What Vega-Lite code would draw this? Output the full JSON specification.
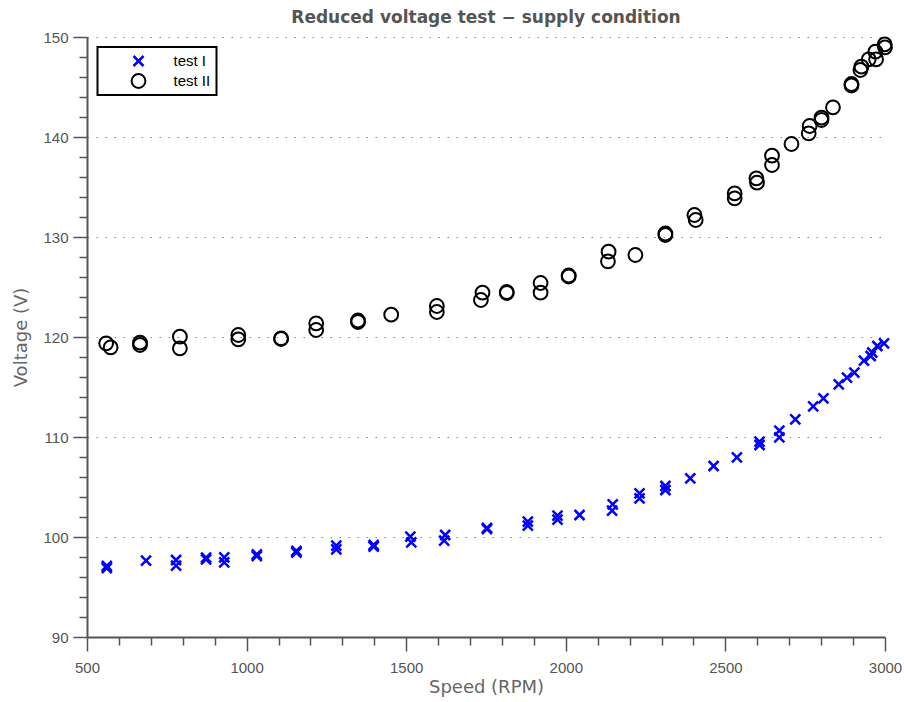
{
  "$schema": "https://vega.github.io/schema/vega-lite/v6.json",
  "autosize": "none",
  "width": 798,
  "height": 600,
  "padding": {"left": 87, "top": 37, "right": 19, "bottom": 65},
  "background": "white",
  "title": {"text": "Reduced voltage test  \u2212 supply condition", "font": "DejaVu Sans", "fontSize": 17, "fontWeight": "bold", "color": "#555555", "offset": 3, "anchor": "middle"},
  "config": {
    "view": {"stroke": null},
    "legend": {"strokeWidth": 2}
  },
  "data": {"values": [
    {"test": "test I", "speed": 562, "voltage": 97.1},
    {"test": "test I", "speed": 562, "voltage": 96.9},
    {"test": "test I", "speed": 685, "voltage": 97.63},
    {"test": "test I", "speed": 779, "voltage": 97.7},
    {"test": "test I", "speed": 779, "voltage": 97.13},
    {"test": "test I", "speed": 873, "voltage": 97.93},
    {"test": "test I", "speed": 873, "voltage": 97.77},
    {"test": "test I", "speed": 930, "voltage": 97.97},
    {"test": "test I", "speed": 930, "voltage": 97.47},
    {"test": "test I", "speed": 1032, "voltage": 98.27},
    {"test": "test I", "speed": 1032, "voltage": 98.1},
    {"test": "test I", "speed": 1156, "voltage": 98.6},
    {"test": "test I", "speed": 1156, "voltage": 98.45},
    {"test": "test I", "speed": 1281, "voltage": 99.13},
    {"test": "test I", "speed": 1281, "voltage": 98.77},
    {"test": "test I", "speed": 1398, "voltage": 99.2},
    {"test": "test I", "speed": 1398, "voltage": 99.03},
    {"test": "test I", "speed": 1513, "voltage": 100.03},
    {"test": "test I", "speed": 1516, "voltage": 99.47},
    {"test": "test I", "speed": 1622, "voltage": 100.2},
    {"test": "test I", "speed": 1619, "voltage": 99.63},
    {"test": "test I", "speed": 1753, "voltage": 100.9},
    {"test": "test I", "speed": 1753, "voltage": 100.8},
    {"test": "test I", "speed": 1881, "voltage": 101.53},
    {"test": "test I", "speed": 1881, "voltage": 101.13},
    {"test": "test I", "speed": 1974, "voltage": 102.13},
    {"test": "test I", "speed": 1974, "voltage": 101.73},
    {"test": "test I", "speed": 2043, "voltage": 102.2},
    {"test": "test I", "speed": 2147, "voltage": 103.27},
    {"test": "test I", "speed": 2145, "voltage": 102.63},
    {"test": "test I", "speed": 2231, "voltage": 104.37},
    {"test": "test I", "speed": 2231, "voltage": 103.87},
    {"test": "test I", "speed": 2312, "voltage": 105.1},
    {"test": "test I", "speed": 2312, "voltage": 104.7},
    {"test": "test I", "speed": 2390, "voltage": 105.87},
    {"test": "test I", "speed": 2463, "voltage": 107.1},
    {"test": "test I", "speed": 2536, "voltage": 107.97},
    {"test": "test I", "speed": 2607, "voltage": 109.53},
    {"test": "test I", "speed": 2607, "voltage": 109.2},
    {"test": "test I", "speed": 2669, "voltage": 110.63},
    {"test": "test I", "speed": 2669, "voltage": 109.97},
    {"test": "test I", "speed": 2719, "voltage": 111.77},
    {"test": "test I", "speed": 2775, "voltage": 113.07},
    {"test": "test I", "speed": 2807, "voltage": 113.87},
    {"test": "test I", "speed": 2855, "voltage": 115.27},
    {"test": "test I", "speed": 2881, "voltage": 115.93},
    {"test": "test I", "speed": 2904, "voltage": 116.43},
    {"test": "test I", "speed": 2934, "voltage": 117.63},
    {"test": "test I", "speed": 2955, "voltage": 118.1},
    {"test": "test I", "speed": 2960, "voltage": 118.45},
    {"test": "test I", "speed": 2976, "voltage": 119.1},
    {"test": "test I", "speed": 2997, "voltage": 119.37},
    {"test": "test II", "speed": 560, "voltage": 119.37},
    {"test": "test II", "speed": 574, "voltage": 118.97},
    {"test": "test II", "speed": 666, "voltage": 119.43},
    {"test": "test II", "speed": 666, "voltage": 119.2},
    {"test": "test II", "speed": 791, "voltage": 120.03},
    {"test": "test II", "speed": 791, "voltage": 118.87},
    {"test": "test II", "speed": 974, "voltage": 120.2},
    {"test": "test II", "speed": 974, "voltage": 119.77},
    {"test": "test II", "speed": 1108, "voltage": 119.87},
    {"test": "test II", "speed": 1108, "voltage": 119.8},
    {"test": "test II", "speed": 1218, "voltage": 121.37},
    {"test": "test II", "speed": 1218, "voltage": 120.7},
    {"test": "test II", "speed": 1349, "voltage": 121.65},
    {"test": "test II", "speed": 1349, "voltage": 121.5},
    {"test": "test II", "speed": 1453, "voltage": 122.23},
    {"test": "test II", "speed": 1596, "voltage": 123.1},
    {"test": "test II", "speed": 1596, "voltage": 122.5},
    {"test": "test II", "speed": 1739, "voltage": 124.43},
    {"test": "test II", "speed": 1734, "voltage": 123.7},
    {"test": "test II", "speed": 1815, "voltage": 124.5},
    {"test": "test II", "speed": 1815, "voltage": 124.4},
    {"test": "test II", "speed": 1921, "voltage": 125.4},
    {"test": "test II", "speed": 1921, "voltage": 124.43},
    {"test": "test II", "speed": 2009, "voltage": 126.15},
    {"test": "test II", "speed": 2009, "voltage": 126.05},
    {"test": "test II", "speed": 2134, "voltage": 128.53},
    {"test": "test II", "speed": 2132, "voltage": 127.57},
    {"test": "test II", "speed": 2218, "voltage": 128.2},
    {"test": "test II", "speed": 2312, "voltage": 130.35},
    {"test": "test II", "speed": 2312, "voltage": 130.2},
    {"test": "test II", "speed": 2403, "voltage": 132.2},
    {"test": "test II", "speed": 2407, "voltage": 131.7},
    {"test": "test II", "speed": 2529, "voltage": 134.37},
    {"test": "test II", "speed": 2529, "voltage": 133.87},
    {"test": "test II", "speed": 2597, "voltage": 135.87},
    {"test": "test II", "speed": 2599, "voltage": 135.43},
    {"test": "test II", "speed": 2646, "voltage": 138.13},
    {"test": "test II", "speed": 2646, "voltage": 137.2},
    {"test": "test II", "speed": 2707, "voltage": 139.3},
    {"test": "test II", "speed": 2764, "voltage": 141.1},
    {"test": "test II", "speed": 2761, "voltage": 140.37},
    {"test": "test II", "speed": 2801, "voltage": 141.93},
    {"test": "test II", "speed": 2801, "voltage": 141.7},
    {"test": "test II", "speed": 2837, "voltage": 142.97},
    {"test": "test II", "speed": 2895, "voltage": 145.3},
    {"test": "test II", "speed": 2895, "voltage": 145.15},
    {"test": "test II", "speed": 2923, "voltage": 146.7},
    {"test": "test II", "speed": 2926, "voltage": 147.03},
    {"test": "test II", "speed": 2949, "voltage": 147.77},
    {"test": "test II", "speed": 2972, "voltage": 147.77},
    {"test": "test II", "speed": 2970, "voltage": 148.53},
    {"test": "test II", "speed": 2999, "voltage": 149.27},
    {"test": "test II", "speed": 3000, "voltage": 148.97}
  ]},
  "mark": {"type": "point", "filled": false, "strokeWidth": 2, "size": 180, "opacity": 1},
  "encoding": {
    "x": {
      "field": "speed", "type": "quantitative",
      "scale": {"domain": [500, 3000], "nice": false, "zero": false},
      "axis": {
        "title": "Speed (RPM)",
        "values": [500,600,700,800,900,1000,1100,1200,1300,1400,1500,1600,1700,1800,1900,2000,2100,2200,2300,2400,2500,2600,2700,2800,2900,3000],
        "format": "d",
        "labelExpr": "datum.value % 500 === 0 ? datum.label : ''",
        "grid": false,
        "domainColor": "#555555", "domainWidth": 2,
        "tickColor": "#555555", "tickWidth": 1.5,
        "tickSize": {"expr": "datum.value % 500 === 0 ? 14 : 8"},
        "labelFont": "Liberation Sans", "labelFontSize": 15, "labelColor": "#555555", "labelPadding": 9,
        "labelOverlap": false, "labelFlush": false,
        "titleFont": "DejaVu Sans", "titleFontSize": 18, "titleFontWeight": "normal", "titleColor": "#666666", "titlePadding": 3
      }
    },
    "y": {
      "field": "voltage", "type": "quantitative",
      "scale": {"domain": [90, 150], "nice": false, "zero": false},
      "axis": {
        "title": "Voltage (V)",
        "values": [90,92,94,96,98,100,102,104,106,108,110,112,114,116,118,120,122,124,126,128,130,132,134,136,138,140,142,144,146,148,150],
        "labelExpr": "datum.value % 10 === 0 ? datum.label : ''",
        "grid": true,
        "gridColor": "#888888", "gridWidth": 1, "gridDash": [1.5, 7.5],
        "gridOpacity": {"expr": "datum.value % 10 === 0 && datum.value > 90 ? 1 : 0"},
        "domainColor": "#555555", "domainWidth": 2,
        "tickColor": "#555555", "tickWidth": 1.5,
        "tickSize": {"expr": "datum.value % 10 === 0 ? 14 : 8"},
        "labelFont": "Liberation Sans", "labelFontSize": 15, "labelColor": "#555555", "labelPadding": 5,
        "labelOverlap": false,
        "titleFont": "DejaVu Sans", "titleFontSize": 18, "titleFontWeight": "normal", "titleColor": "#666666", "titlePadding": 12
      }
    },
    "color": {
      "field": "test", "type": "nominal",
      "scale": {"domain": ["test I", "test II"], "range": ["#0000ff", "#000000"]},
      "legend": {
        "title": null, "orient": "none", "legendX": 10.5, "legendY": 10,
        "strokeColor": "#000000", "fillColor": "#ffffff", "padding": 6,
        "symbolOffset": 27, "labelOffset": 27, "rowPadding": 4, "clipHeight": 16,
        "symbolSize": 169, "symbolStrokeWidth": 2,
        "labelFont": "Liberation Sans", "labelFontSize": 15, "labelColor": "#000000"
      }
    },
    "shape": {
      "field": "test", "type": "nominal",
      "scale": {"domain": ["test I", "test II"], "range": ["M-1,-1L1,1M-1,1L1,-1", "circle"]}
    },
    "strokeWidth": {
      "field": "test", "type": "nominal",
      "scale": {"domain": ["test I", "test II"], "range": [2.5, 2]},
      "legend": null
    },
    "size": {
      "field": "test", "type": "nominal",
      "scale": {"domain": ["test I", "test II"], "range": [100, 190]},
      "legend": null
    }
  }
}
